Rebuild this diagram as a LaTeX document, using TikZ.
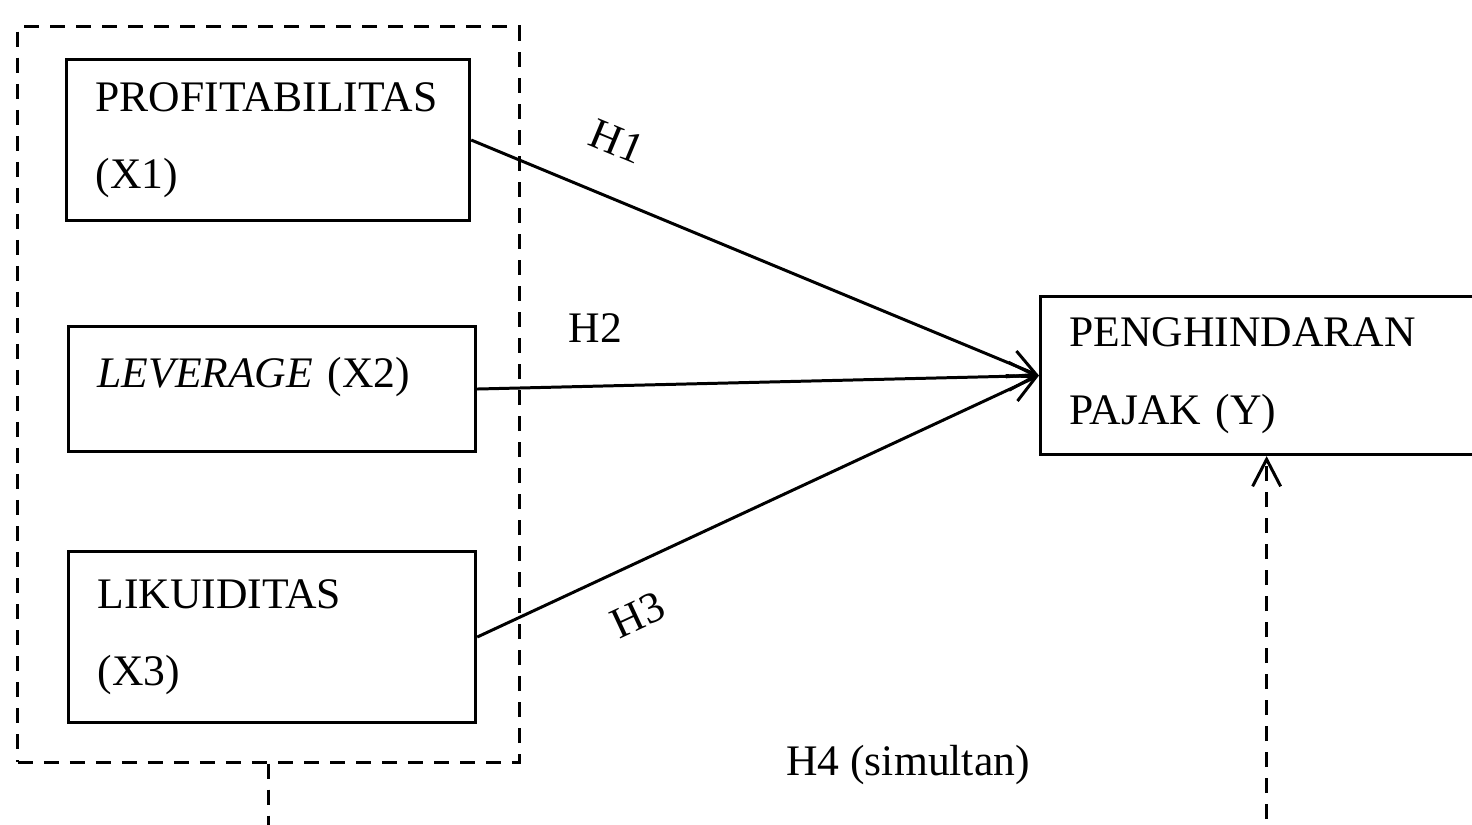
\documentclass[tikz,border=0pt]{standalone}
\usepackage{fontspec}
\setmainfont{Liberation Serif}
\usetikzlibrary{arrows.meta, positioning}

\begin{document}
\begin{tikzpicture}[
		% pixel-like units, y pointing down
		x={(0.01cm,0cm)}, y={(0cm,-0.01cm)},
		>={Straight Barb[length=2.7mm, width=2.8mm]},
		varbox/.style={draw, line width=0.85pt, rectangle, anchor=north west, align=left,
			inner xsep=0.29cm, inner ysep=0pt, font=\fontsize{12.4}{22}\selectfont},
		groupline/.style={draw, line width=0.85pt, dash pattern=on 0.15cm off 0.11cm},
		link/.style={->, line width=0.85pt},
		hlabel/.style={font=\fontsize{12.4}{14}\selectfont}
		]
		
		\useasboundingbox (0,0) rectangle (1472,825);
		
		% --- 1. INDEPENDENT VARIABLES ---
		\node[varbox, minimum width=4.03cm, minimum height=1.61cm, text width=3.45cm] (x1) at (65,58) {PROFITABILITAS\\(X1)};
		\node[varbox, minimum width=4.07cm, minimum height=1.25cm, text width=3.49cm, text depth=0.34cm] (x2) at (67,325) {\textit{LEVERAGE} (X2)};
		\node[varbox, minimum width=4.07cm, minimum height=1.71cm, text width=3.49cm] (x3) at (67,550) {LIKUIDITAS\\(X3)};
		
		% dashed frame round the three variables
		\node[groupline, minimum width=5.01cm, minimum height=7.35cm] (grp) at (268.5,394.5) {};
		
		% --- 2. DEPENDENT VARIABLE ---
		\node[varbox, minimum width=4.52cm, minimum height=1.58cm, text width=3.94cm] (y) at (1039,295) {PENGHINDARAN\\PAJAK (Y)};
		
		% --- 3. HYPOTHESES ---
		\draw[link] (x1.east) -- node[hlabel, sloped, above=0.27cm, pos=0.22] (h1) {H1} (y.west);
		\draw[link] (x2.east) -- node[hlabel, above=0.3cm, pos=0.21] (h2) {H2} (y.west);
		\draw[link] (x3.east) -- node[hlabel, sloped, below=0.2cm, pos=0.25] (h3) {H3} (y.west);
		
		% simultaneous test
		\draw[groupline, ->] (grp.south) -- ++(0,75) -| (y.south);
		\node[hlabel] (h4) at (908,765) {H4 (simultan)};
		
	\end{tikzpicture}
\end{document}
